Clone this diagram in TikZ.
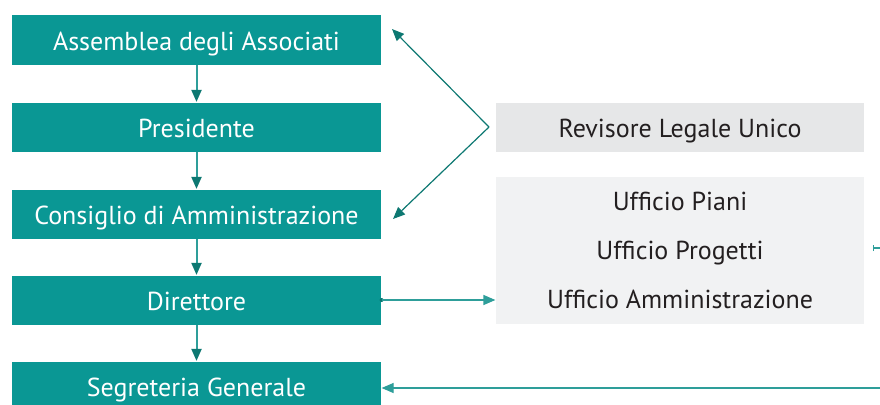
\documentclass[tikz,border=0pt]{standalone}
\usepackage{fontspec}
\setmainfont{PT Sans}
\usetikzlibrary{arrows.meta}
\definecolor{tealbox}{HTML}{0A9794}
\definecolor{tealline}{HTML}{2E9E9A}
\definecolor{tealtip}{HTML}{0D7872}
\definecolor{grayA}{HTML}{E6E7E8}
\definecolor{grayB}{HTML}{F1F2F3}
\definecolor{inkgray}{HTML}{231F20}

\begin{document}
\begin{tikzpicture}[x=1pt,y=-1pt,line width=1.2pt,
    organ/.style={fill=tealbox,text=white,minimum width=369pt,minimum height=49pt,
      inner sep=0pt,text height=21pt,text depth=0pt,font=\fontsize{26}{30}\selectfont},
    office/.style={fill=#1,text=inkgray,minimum width=368pt,inner sep=0pt,
      font=\fontsize{26}{30}\selectfont},
    down/.style={tealline,line width=2pt,-{Triangle[length=12pt,width=10pt,color=tealtip]}},
    link/.style={tealtip,-{Triangle[length=12pt,width=10pt]}}]
  \useasboundingbox (0,0) rectangle (880,404);

  \node[organ] (assemblea)  at (196.5,40)  {Assemblea degli Associati};
  \node[organ] (presidente) at (196.5,127) {Presidente};
  \node[organ] (consiglio)  at (196.5,214) {Consiglio di Amministrazione};
  \node[organ] (direttore)  at (196.5,300) {Direttore};
  \node[organ] (segreteria) at (196.5,386) {Segreteria Generale};

  \node[office=grayA,minimum height=49pt,text height=21pt,text depth=0pt]
    (revisore) at (680,127) {Revisore Legale Unico};
  \node[office=grayB,minimum height=147pt,align=center,
    font=\fontsize{26}{49}\selectfont] (uffici) at (680,250.5)
    {Ufficio Piani\\Ufficio Progetti\\Ufficio Amministrazione};

  \draw[down] (assemblea) -- (presidente);
  \draw[down] (presidente) -- (consiglio);
  \draw[down] (consiglio) -- (direttore);
  \draw[down] (direttore) -- (segreteria);

  \coordinate (revout) at (489,127);
  \coordinate (toassemblea) at (392,29);
  \coordinate (toconsiglio) at (393,219);
  \draw[link] (revout) -- (toassemblea);
  \draw[link] (revout) -- (toconsiglio);

  \fill[tealtip] (direttore.east) circle (2pt);
  \draw[link,tealline] (direttore.east) -- (direttore.east -| uffici.west);

  \coordinate (segin) at (880,388);
  \draw[link,tealline] (segin) -- (segin -| segreteria.east);

  \coordinate (uffout) at (873,248);
  \draw[tealline,{Bar[width=6pt]}-] (uffout) -- (880,248);
\end{tikzpicture}
\end{document}
